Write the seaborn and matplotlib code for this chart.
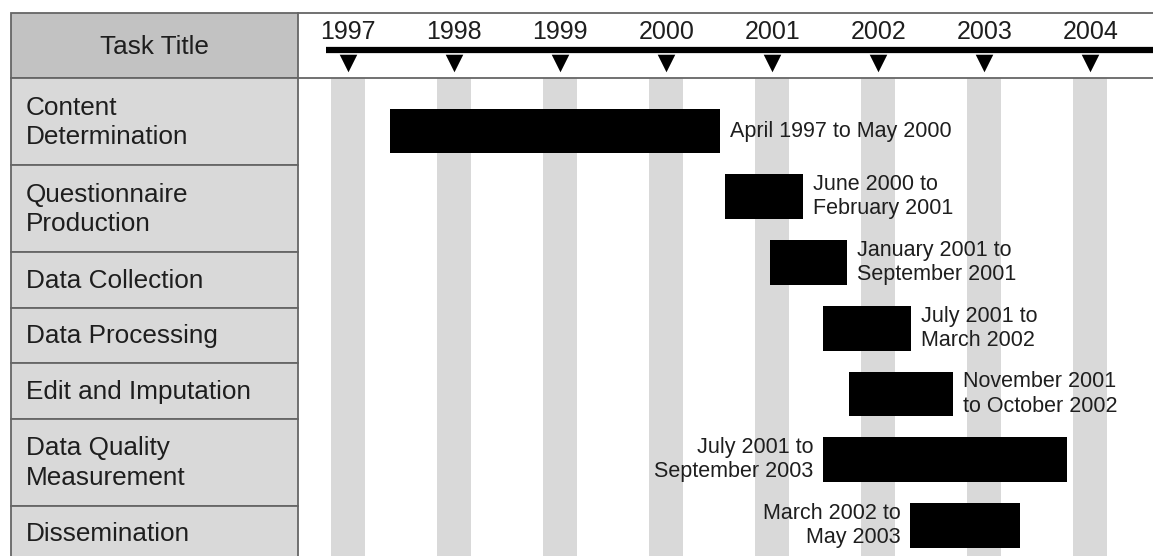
import numpy as np
import pandas as pd
import seaborn as sns
import matplotlib.pyplot as plt
from matplotlib.patches import Rectangle

# tarefas e periodos (anos decimais)
tasks = ['Content\nDetermination', 'Questionnaire\nProduction', 'Data Collection',
         'Data Processing', 'Edit and Imputation', 'Data Quality\nMeasurement', 'Dissemination']
starts = [1997.39, 2000.55, 2000.98, 2001.48, 2001.72, 2001.48, 2002.30]
ends = [2000.51, 2001.29, 2001.71, 2002.31, 2002.71, 2003.78, 2003.34]
periods = ['April 1997 to May 2000', 'June 2000 to\nFebruary 2001', 'January 2001 to\nSeptember 2001',
           'July 2001 to\nMarch 2002', 'November 2001\nto October 2002', 'July 2001 to\nSeptember 2003',
           'March 2002 to\nMay 2003']
years = [1997, 1998, 1999, 2000, 2001, 2002, 2003, 2004]

df = pd.DataFrame({'task': tasks, 'start': starts, 'end': ends})
df['dur'] = df['end'] - df['start']

sns.set_style('white')
plt.rcParams['font.family'] = ['Liberation Sans', 'DejaVu Sans']

W, H = 1153, 556
fig = plt.figure(figsize=(W / 100, H / 100), dpi=100)
fig.patch.set_facecolor('white')

line_c = '#666666'
cell_c = '#d9d9d9'
head_c = '#c2c2c2'
txt_c = '#1e1e1e'

# coluna da tabela (esquerda)
tab_left, tab_right, top, head_bot = 11, 298, 13, 78
ax_tab = fig.add_axes([tab_left / W, 0, (tab_right - tab_left) / W, (H - top) / H])
ax_tab.set_xlim(0, tab_right - tab_left)
ax_tab.set_ylim(H - top, 0)
ax_tab.set_axis_off()

tw = tab_right - tab_left
hh = head_bot - top
ax_tab.add_patch(Rectangle((0, 0), tw, hh, facecolor=head_c, edgecolor=line_c, lw=1.3, clip_on=False))
ax_tab.text(tw / 2, hh / 2 + 1, 'Task Title', ha='center', va='center', fontsize=18.8, color=txt_c)
y0 = hh
for t in tasks:
    rh = 24 + 31.5 * (t.count('\n') + 1)
    ax_tab.add_patch(Rectangle((0, y0), tw, rh, facecolor=cell_c, edgecolor=line_c, lw=1.3, clip_on=False))
    ax_tab.text(15, y0 + rh / 2 + 1, t, ha='left', va='center', fontsize=18.8, color=txt_c, linespacing=1.3)
    y0 += rh

# linha do tempo
x0_px, px_per_year = 348.2, 106.0
xlim = (1997 + (tab_right - x0_px) / px_per_year, 1997 + (W - x0_px) / px_per_year)
row0_px, row_step = 131, 65.75
ax = fig.add_axes([tab_right / W, 0, (W - tab_right) / W, (H - head_bot) / H])
for y in years:
    ax.axvspan(y - 0.16, y + 0.16, color=cell_c, lw=0, zorder=0)
sns.barplot(data=df, x='dur', y='task', left=df['start'].values, orient='y', color='black',
            width=0.68, errorbar=None, ax=ax, zorder=2, linewidth=0, edgecolor='black')
ax.set_xlim(*xlim)
ax.set_ylim((H - row0_px) / row_step, (head_bot - row0_px) / row_step)
ax.set_axis_off()

side = ['right'] * 5 + ['left'] * 2
for i, (s, e, lab) in enumerate(zip(starts, ends, periods)):
    if side[i] == 'right':
        ax.annotate(lab, (e, i), xytext=(7, 0), textcoords='offset points', ha='left', va='center',
                    fontsize=15.5, color=txt_c, linespacing=1.2, multialignment='left')
    else:
        ax.annotate(lab, (s, i), xytext=(-7, 0), textcoords='offset points', ha='right', va='center',
                    fontsize=15.5, color=txt_c, linespacing=1.2, multialignment='right')

# cabecalho dos anos
ax_head = fig.add_axes([tab_right / W, (H - head_bot) / H, (W - tab_right) / W, hh / H], sharex=ax)
sns.scatterplot(x=years, y=[0.23] * len(years), marker='v', s=160, color='black', linewidth=0,
                ax=ax_head, legend=False)
ax_head.hlines(0.43, years[0] - 0.21, xlim[1], color='black', lw=4.5)
for y in years:
    ax_head.text(y, 0.71, str(y), ha='center', va='center', fontsize=18, color=txt_c,
                 transform=ax_head.get_xaxis_transform())
ax_head.set_xlim(*xlim)
ax_head.set_ylim(0, 1)
ax_head.set(xlabel='', ylabel='')
ax_head.tick_params(left=False, bottom=False, labelleft=False, labelbottom=False)
for sp in ['left', 'right']:
    ax_head.spines[sp].set_visible(False)
for sp in ['top', 'bottom']:
    ax_head.spines[sp].set_color(line_c)
    ax_head.spines[sp].set_linewidth(1.3)
ax_head.patch.set_alpha(0)

plt.savefig('out.png', dpi=100, facecolor='white')
